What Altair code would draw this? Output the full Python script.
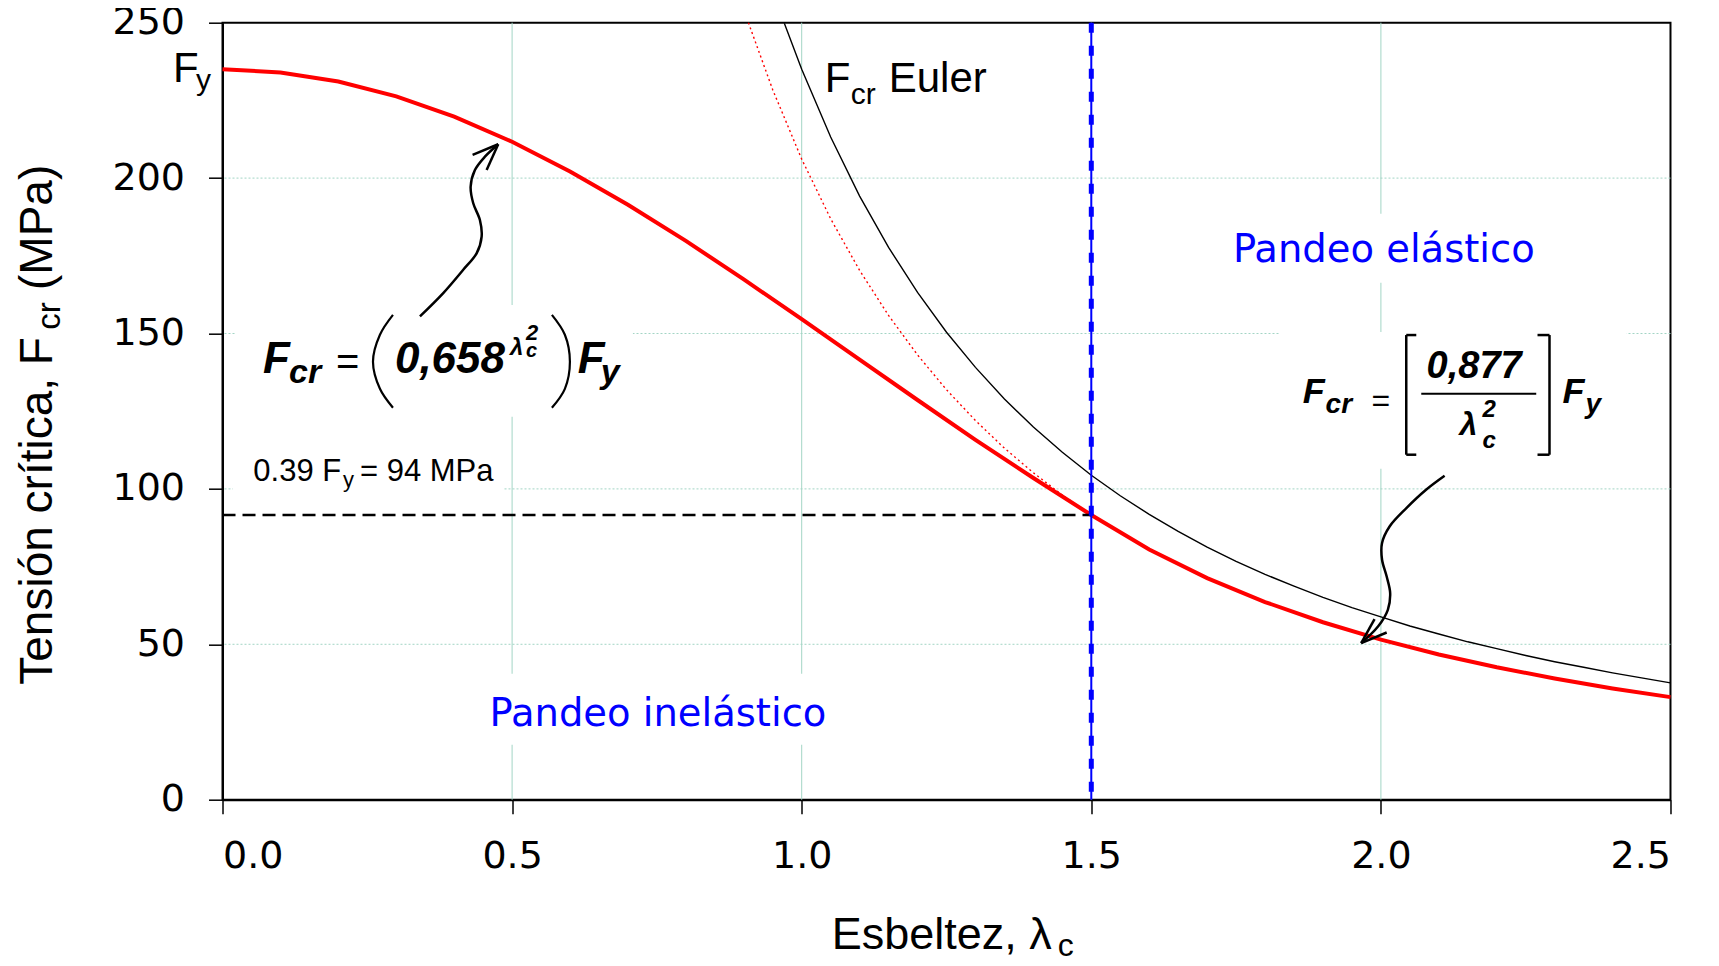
import altair as alt
import pandas as pd

# ---------------- data ----------------
lam_red = [0.0, 0.1, 0.2, 0.3, 0.4, 0.5, 0.6, 0.7, 0.8, 0.9, 1.0, 1.1, 1.2,
           1.3, 1.4, 1.5, 1.6, 1.7, 1.8, 1.9, 2.0, 2.1, 2.2, 2.3, 2.4, 2.5]
fcr_red = [235.0, 234.0, 231.1, 226.3, 219.8, 211.7, 202.1, 191.4, 179.8,
           167.4, 154.6, 141.6, 128.6, 115.8, 103.5, 91.6, 80.5, 71.3, 63.6,
           57.1, 51.5, 46.7, 42.6, 39.0, 35.8, 33.0]

lam_euler = [0.97, 1.0, 1.05, 1.1, 1.15, 1.2, 1.25, 1.3, 1.35, 1.4, 1.45, 1.5,
             1.55, 1.6, 1.65, 1.7, 1.75, 1.8, 1.85, 1.9, 1.95, 2.0, 2.05, 2.1,
             2.15, 2.2, 2.25, 2.3, 2.35, 2.4, 2.45, 2.5]
fcr_euler = [249.8, 235.0, 213.2, 194.2, 177.7, 163.2, 150.4, 139.1, 128.9,
             119.9, 111.8, 104.4, 97.8, 91.8, 86.3, 81.3, 76.7, 72.5, 68.7,
             65.1, 61.8, 58.8, 55.9, 53.3, 50.8, 48.6, 46.4, 44.4, 42.6, 40.8,
             39.2, 37.6]

lam_ext = [0.908, 0.95, 1.0, 1.05, 1.1, 1.15, 1.2, 1.25, 1.3, 1.35, 1.4, 1.45, 1.5]
fcr_ext = [250.0, 228.4, 206.1, 186.9, 170.3, 155.8, 143.1, 131.9, 122.0,
           113.1, 105.2, 98.0, 91.6]

lam_limit = 1.5
fcr_limit = 91.6

x_ticks = [0.0, 0.5, 1.0, 1.5, 2.0, 2.5]
y_ticks = [0, 50, 100, 150, 200, 250]
x_grid = [0.5, 1.0, 1.5, 2.0]
y_grid = [50, 100, 150, 200]

# ---------------- annotation geometry (data units) ----------------
arrow_left_x = [0.3409, 0.3811, 0.4156, 0.4387, 0.4474, 0.4444, 0.4329,
                0.4284, 0.4358, 0.4531, 0.4760]
arrow_left_y = [155.5, 163.0, 170.5, 175.8, 181.2, 186.5, 191.9, 197.2,
                202.6, 206.9, 210.9]
arrow_right_x = [2.110, 2.078, 2.044, 2.015, 2.002, 2.002, 2.010, 2.016,
                 2.012, 1.995, 1.966]
arrow_right_y = [104.2, 99.7, 93.8, 87.9, 82.6, 77.2, 71.8, 66.5, 61.1,
                 55.7, 50.4]
paren_left_x = [0.2943, 0.2718, 0.2598, 0.2718, 0.2943]
paren_right_x = [0.5687, 0.5911, 0.5998, 0.5911, 0.5687]
paren_y = [156.0, 149.6, 140.9, 132.2, 126.1]

# segments: x, y, x2, y2, stroke width
segments = pd.DataFrame([
    # arrow heads
    [0.4760, 210.9, 0.4318, 207.5, 2.5],
    [0.4760, 210.9, 0.4560, 202.6, 2.5],
    [1.966, 50.4, 1.989, 58.1, 2.5],
    [1.966, 50.4, 2.010, 53.8, 2.5],
    # brackets of right formula
    [2.0438, 149.5, 2.0438, 111.0, 2.5],
    [2.0438, 149.5, 2.0611, 149.5, 2.5],
    [2.0438, 111.0, 2.0611, 111.0, 2.5],
    [2.2911, 149.5, 2.2911, 111.0, 2.5],
    [2.2704, 149.5, 2.2911, 149.5, 2.5],
    [2.2704, 111.0, 2.2911, 111.0, 2.5],
    # fraction bar
    [2.0697, 130.6, 2.2682, 130.6, 2.0],
], columns=["x", "y", "x2", "y2", "w"])

# white text boxes that interrupt the grid
boxes = pd.DataFrame([
    [0.0216, 0.7085, 123.2, 159.2],
    [1.8250, 2.4244, 106.5, 150.5],
    [0.0180, 0.4860, 97.1, 112.6],
    [0.4444, 1.0571, 17.7, 40.5],
    [1.7302, 2.2825, 166.3, 188.5],
], columns=["x", "x2", "y", "y2"])

# text fragments: text, x, y, size, style group
texts = pd.DataFrame([
    # Fy label on the axis
    ["F", -0.0854, 230.9, 42, "reg"],
    ["y", -0.0457, 228.4, 30, "reg"],
    # Fcr Euler
    ["F", 1.0399, 227.8, 42, "reg"],
    ["cr", 1.0847, 223.9, 30, "reg"],
    ["Euler", 1.1503, 227.8, 42, "reg"],
    # 0.39 Fy = 94 MPa
    ["0.39 F", 0.0532, 102.4, 31, "reg"],
    ["y", 0.2080, 100.7, 22, "reg"],
    ["= 94 MPa", 0.2373, 102.4, 31, "reg"],
    # x title
    ["Esbeltez, λ", 1.0519, -48.2, 45, "reg"],
    ["c", 1.4420, -50.2, 32, "reg"],
    # equals signs
    ["=", 0.1959, 136.7, 40, "reg"],
    ["=", 1.9839, 125.1, 32, "reg"],
    # left formula
    ["F", 0.0699, 137.3, 44, "bi"],
    ["cr", 0.1148, 134.1, 34, "bi"],
    ["0,658", 0.2977, 137.3, 44, "bi"],
    ["λ", 0.4962, 143.1, 24, "bi"],
    ["2", 0.5238, 148.0, 22, "bi"],
    ["c", 0.5238, 142.5, 20, "bi"],
    ["F", 0.6135, 137.3, 44, "bi"],
    ["y", 0.6532, 134.1, 34, "bi"],
    # right formula
    ["F", 1.8649, 127.7, 36, "bi"],
    ["cr", 1.9045, 124.5, 28, "bi"],
    ["0,877", 2.0789, 135.7, 38, "bi"],
    ["λ", 2.1358, 117.4, 32, "bi"],
    ["2", 2.1755, 123.2, 24, "bi"],
    ["c", 2.1755, 113.2, 24, "bi"],
    ["F", 2.3136, 127.7, 36, "bi"],
    ["y", 2.3533, 124.5, 28, "bi"],
], columns=["t", "x", "y", "s", "g"])

blue_texts = pd.DataFrame([
    ["Pandeo elástico", 2.005, 173.0],
    ["Pandeo inelástico", 0.7517, 23.6],
], columns=["t", "x", "y"])

ytitle = pd.DataFrame([
    ["Tensión crítica, F", -0.2943, 37.0, 46],
    ["cr", -0.2805, 151.2, 33],
    ["(MPa)", -0.2943, 164.0, 46],
], columns=["t", "x", "y", "s"])

# ---------------- chart ----------------
xs = alt.Scale(domain=[0, 2.5], nice=False, zero=False)
ys = alt.Scale(domain=[0, 250], nice=False, zero=False)
xaxis = alt.Axis(values=x_ticks, format=".1f", title=None, grid=False)
yaxis = alt.Axis(values=y_ticks, format="d", title=None, grid=False)


def X(f="x"):
    return alt.X(f"{f}:Q", scale=xs, axis=xaxis, title=None)


def Y(f="y"):
    return alt.Y(f"{f}:Q", scale=ys, axis=yaxis, title=None)


red_df = pd.DataFrame({"x": lam_red, "y": fcr_red})
euler_df = pd.DataFrame({"x": lam_euler, "y": fcr_euler})
ext_df = pd.DataFrame({"x": lam_ext, "y": fcr_ext})
limit_df = pd.DataFrame({"x": [0.0], "x2": [lam_limit], "y": [fcr_limit],
                         "lx": [lam_limit]})

arrows = pd.concat([
    pd.DataFrame({"x": arrow_left_x, "y": arrow_left_y, "id": "a",
                  "i": range(len(arrow_left_x))}),
    pd.DataFrame({"x": arrow_right_x, "y": arrow_right_y, "id": "b",
                  "i": range(len(arrow_right_x))}),
])
parens = pd.concat([
    pd.DataFrame({"x": paren_left_x, "y": paren_y, "id": "l",
                  "i": range(len(paren_y))}),
    pd.DataFrame({"x": paren_right_x, "y": paren_y, "id": "r",
                  "i": range(len(paren_y))}),
])

grid_col = "#a3d5c5"
vgrid = alt.Chart(pd.DataFrame({"x": x_grid})).mark_rule(
    color=grid_col, strokeWidth=1).encode(x=X())
hgrid = alt.Chart(pd.DataFrame({"y": y_grid})).mark_rule(
    color=grid_col, strokeWidth=1, strokeDash=[2, 2]).encode(y=Y())

box_layer = alt.Chart(boxes).mark_rect(color="white").encode(
    x=X(), x2="x2:Q", y=Y(), y2="y2:Q")

euler = alt.Chart(euler_df).mark_line(color="black", strokeWidth=1.4).encode(
    x=X(), y=Y())
ext = alt.Chart(ext_df).mark_line(color="red", strokeWidth=1.4,
                                  strokeDash=[2, 3]).encode(x=X(), y=Y())
red = alt.Chart(red_df).mark_line(color="red", strokeWidth=4).encode(
    x=X(), y=Y())

hline = alt.Chart(limit_df).mark_rule(color="black", strokeWidth=2.5,
                                      strokeDash=[13, 7]).encode(
    x=X(), x2="x2:Q", y=Y())
vsolid = alt.Chart(limit_df).mark_rule(color="#0000ff", strokeWidth=2).encode(
    x=X("lx"))
vdash = alt.Chart(limit_df).mark_rule(color="#0000ff", strokeWidth=5,
                                      strokeDash=[10, 13]).encode(x=X("lx"))

arrow_lines = alt.Chart(arrows).mark_line(
    color="black", strokeWidth=2.5, interpolate="catmull-rom").encode(
    x=X(), y=Y(), detail="id:N", order="i:Q")
paren_lines = alt.Chart(parens).mark_line(
    color="black", strokeWidth=2.2, interpolate="catmull-rom").encode(
    x=X(), y=Y(), detail="id:N", order="i:Q")
seg_layer = alt.Chart(segments).mark_rule(color="black").encode(
    x=X(), y=Y(), x2="x2:Q", y2="y2:Q",
    strokeWidth=alt.StrokeWidth("w:Q", scale=None))


def text_layer(group, font, weight="normal", style="normal"):
    return alt.Chart(texts).transform_filter(
        alt.datum.g == group).mark_text(
        align="left", baseline="alphabetic", font=font, fontWeight=weight,
        fontStyle=style, color="black").encode(
        x=X(), y=Y(), text="t:N", size=alt.Size("s:Q", scale=None))


reg_text = text_layer("reg", "Liberation Sans")
bi_text = text_layer("bi", "Liberation Sans", "bold", "italic")

blue_layer = alt.Chart(blue_texts).mark_text(
    align="center", baseline="alphabetic", font="DejaVu Sans", fontSize=38.5,
    color="#0000ff").encode(x=X(), y=Y(), text="t:N")

ytitle_layer = alt.Chart(ytitle).mark_text(
    align="left", baseline="alphabetic", font="Liberation Sans", angle=270,
    color="black").encode(x=X(), y=Y(), text="t:N",
                          size=alt.Size("s:Q", scale=None))

chart = alt.layer(
    vgrid, hgrid, box_layer, euler, ext, red, hline, vsolid, vdash,
    arrow_lines, paren_lines, seg_layer, reg_text, bi_text, blue_layer,
    ytitle_layer
).properties(
    width=1448, height=777,
    padding={"left": 214.5, "top": 14.7, "right": 40, "bottom": 157},
    autosize=alt.AutoSizeParams(type="none"),
).configure_view(
    stroke="black", strokeWidth=2
).configure_axis(
    domainColor="black", domainWidth=2, tickColor="black", tickWidth=1.5,
    tickSize=14, labelFont="DejaVu Sans", labelFontSize=38,
    labelColor="black", labelPadding=24,
)

chart.save("out.html", embed_options={"renderer": "svg", "actions": False})
